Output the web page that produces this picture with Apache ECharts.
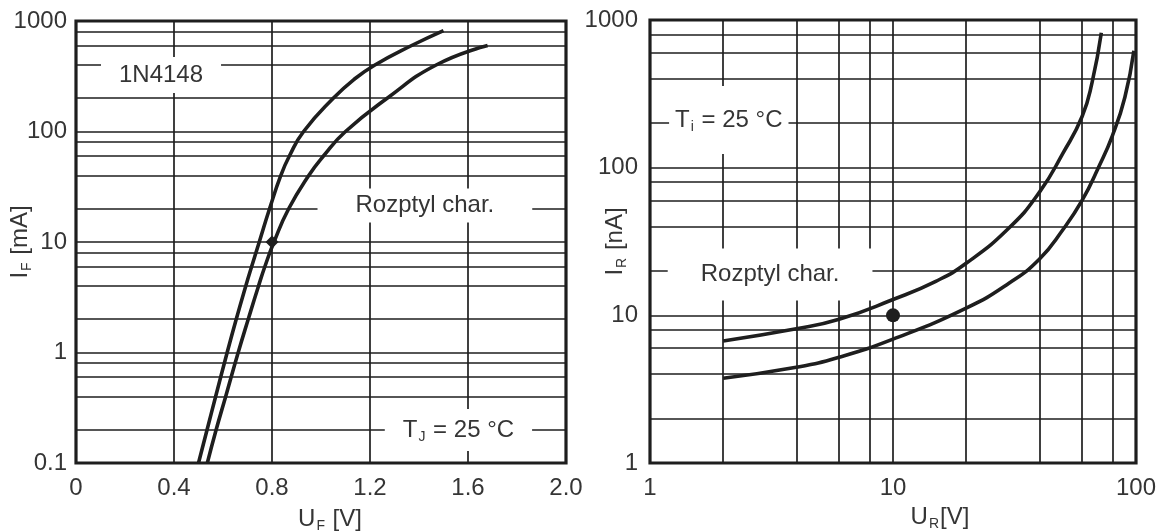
<!DOCTYPE html>
<html><head><meta charset="utf-8">
<script src="https://cdn.jsdelivr.net/npm/echarts@6/dist/echarts.min.js"></script>
<style>html,body{margin:0;padding:0;background:#fff}#c{width:1160px;height:532px}</style>
</head><body><div id="c"></div>
<script>
// ---------- data ----------
const fwdTickLabelsX = ['0', '0.4', '0.8', '1.2', '1.6', '2.0'];
const fwdTickLabelsY = ['0.1', '1', '10', '100', '1000'];
const revTickLabelsX = ['1', '10', '100'];
const revTickLabelsY = ['1', '10', '100', '1000'];

const fwdGridY = [0.2, 0.4, 0.6, 0.8, 1, 2, 4, 6, 8, 10, 20, 40, 60, 80, 100, 200, 400, 600, 800];
const fwdGridX = [0.4, 0.8, 1.2, 1.6];
const revGridY = [2, 4, 6, 8, 10, 20, 40, 60, 80, 100, 200, 400, 600, 800];
const revGridX = [2, 4, 6, 8, 10, 20, 40, 60, 80];

const fwdUpperU = [0.500, 0.535, 0.570, 0.617, 0.654, 0.693, 0.717, 0.748, 0.790, 0.836, 0.871, 0.929, 1.05, 1.138, 1.22, 1.37, 1.50];
const fwdUpperI = [0.1, 0.2, 0.4, 1, 2, 4, 6, 10, 20, 40, 60, 100, 200, 300, 400, 600, 820];
const fwdLowerU = [0.536, 0.572, 0.611, 0.662, 0.703, 0.745, 0.771, 0.808, 0.868, 0.95, 1.01, 1.10, 1.27, 1.47, 1.68];
const fwdLowerI = [0.1, 0.2, 0.4, 1, 2, 4, 6, 10, 20, 40, 60, 100, 200, 400, 600];

const revUpperU = [2, 4, 6, 10, 15, 20, 30, 40, 50, 60, 66, 72];
const revUpperI = [6.7, 8.1, 9.4, 12.8, 17, 22.5, 39, 68, 125, 222, 380, 820];
const revLowerU = [2, 4, 6, 10, 20, 30, 40, 50, 60, 70, 80, 90, 98];
const revLowerI = [3.75, 4.45, 5.2, 6.9, 11.2, 16.5, 24, 38, 60, 100, 165, 300, 620];

const fwdPoint = [0.8, 10];
const revPoint = [10, 10];

// ---------- helpers ----------
const zip = (a, b) => a.map((v, i) => [v, b[i]]);
const INK = '#1e1e1e';
const TXT = '#353535';
const FONT = 'Liberation Sans, Arial, sans-serif';
const rich = {
  t: { fontSize: 24, color: TXT, fontFamily: FONT },
  s: { fontSize: 14, color: TXT, fontFamily: FONT, padding: [14, 1, 0, 1] }
};

function logLabel(labels, min) {
  return v => labels[Math.round(Math.log10(v) - Math.log10(min))] ?? '';
}

function gridSeries(xi, gy, gx) {
  return {
    type: 'line', xAxisIndex: xi, yAxisIndex: xi, data: [], z: 1, silent: true,
    markLine: {
      z: 1, silent: true, animation: false, symbol: ['none', 'none'],
      label: { show: false },
      emphasis: { disabled: true },
      lineStyle: { color: INK, width: 1.7, type: 'solid', opacity: 1 },
      data: [...gy.map(v => ({ yAxis: v })), ...gx.map(v => ({ xAxis: v }))]
    }
  };
}

const fwdNotes = [
  { text: '{t|1N4148}', at: [0.347, 325], pad: [6, 18] },
  { text: '{t|Rozptyl char.}', at: [1.424, 21.4], pad: [5, 38] },
  { text: '{t|T}{s|J}{t| = 25 °C}', at: [1.561, 0.199], pad: [7, 18] }
];
const revNotes = [
  { text: '{t|T}{s|i}{t| = 25 °C}', at: [2.11, 210], pad: [20, 6] },
  { text: '{t|Rozptyl char.}', at: [3.12, 18.9], pad: [14, 33] }
];

function noteSeries(xi, notes) {
  return {
    type: 'scatter', xAxisIndex: xi, yAxisIndex: xi, z: 3, silent: true,
    symbolSize: 0, itemStyle: { opacity: 1 },
    data: notes.map(n => ({ value: n.at, label: { formatter: n.text, padding: n.pad } })),
    label: {
      show: true, position: 'inside', backgroundColor: '#ffffff', opacity: 1,
      color: TXT, fontSize: 24, fontFamily: FONT, rich: rich
    }
  };
}

function curve(xi, data) {
  return {
    type: 'line', xAxisIndex: xi, yAxisIndex: xi, z: 6, silent: true,
    data: data, showSymbol: false, smooth: 0.5,
    lineStyle: { color: INK, width: 3.6 }
  };
}

const axisCommon = {
  axisLine: { show: false }, axisTick: { show: false }, splitLine: { show: false }, nameMoveOverlap: false
};
const labelCommon = { color: TXT, fontSize: 24, fontFamily: FONT, showMinLabel: true, showMaxLabel: true, hideOverlap: false };
const nameStyle = { color: TXT, fontSize: 24, fontFamily: FONT, rich: rich };
const gridCommon = { show: true, borderColor: INK, borderWidth: 3.2, backgroundColor: 'transparent', containLabel: false, outerBoundsMode: 'none' };

const option = {
  animation: false,
  backgroundColor: '#fff',
  grid: [
    Object.assign({ left: 76, top: 21, width: 490, height: 442 }, gridCommon),
    Object.assign({ left: 650, top: 20, width: 486, height: 443 }, gridCommon)
  ],
  xAxis: [
    Object.assign({}, axisCommon, {
      gridIndex: 0, type: 'value', min: 0, max: 2, interval: 0.4,
      axisLabel: Object.assign({}, labelCommon, { margin: 13, formatter: v => fwdTickLabelsX[Math.round(v / 0.4)] }),
      name: '{t|U}{s|F}{t| [V]}', nameLocation: 'middle', nameGap: 42,
      nameTextStyle: Object.assign({}, nameStyle, { padding: [0, 0, 0, 18] })
    }),
    Object.assign({}, axisCommon, {
      gridIndex: 1, type: 'log', logBase: 10, min: 1, max: 100,
      axisLabel: Object.assign({}, labelCommon, { margin: 13, formatter: logLabel(revTickLabelsX, 1) }),
      name: '{t|U}{s|R}{t|[V]}', nameLocation: 'middle', nameGap: 40,
      nameTextStyle: Object.assign({}, nameStyle, { padding: [0, 0, 0, 94] })
    })
  ],
  yAxis: [
    Object.assign({}, axisCommon, {
      gridIndex: 0, type: 'log', logBase: 10, min: 0.1, max: 1000,
      axisLabel: Object.assign({}, labelCommon, { margin: 9, formatter: logLabel(fwdTickLabelsY, 0.1) }),
      name: '{t|I}{s|F}{t| [mA]}', nameLocation: 'middle', nameGap: 42, nameRotate: 90,
      nameTextStyle: nameStyle
    }),
    Object.assign({}, axisCommon, {
      gridIndex: 1, type: 'log', logBase: 10, min: 1, max: 1000,
      axisLabel: Object.assign({}, labelCommon, { margin: 12, formatter: logLabel(revTickLabelsY, 1) }),
      name: '{t|I}{s|R}{t| [nA]}', nameLocation: 'middle', nameGap: 21, nameRotate: 90,
      nameTextStyle: nameStyle
    })
  ],
  series: [
    gridSeries(0, fwdGridY, fwdGridX),
    gridSeries(1, revGridY, revGridX),
    noteSeries(0, fwdNotes),
    noteSeries(1, revNotes),
    curve(0, zip(fwdUpperU, fwdUpperI)),
    curve(0, zip(fwdLowerU, fwdLowerI)),
    curve(1, zip(revUpperU, revUpperI)),
    curve(1, zip(revLowerU, revLowerI)),
    { type: 'scatter', xAxisIndex: 0, yAxisIndex: 0, z: 7, silent: true, symbol: 'diamond', symbolSize: 13, itemStyle: { color: INK, opacity: 1 }, data: [fwdPoint] },
    { type: 'scatter', xAxisIndex: 1, yAxisIndex: 1, z: 7, silent: true, symbol: 'circle', symbolSize: 14, itemStyle: { color: INK, opacity: 1 }, data: [revPoint] }
  ]
};

const chart = echarts.init(document.getElementById('c'), null, { renderer: 'canvas' });
chart.setOption(option);
</script>
</body></html>
